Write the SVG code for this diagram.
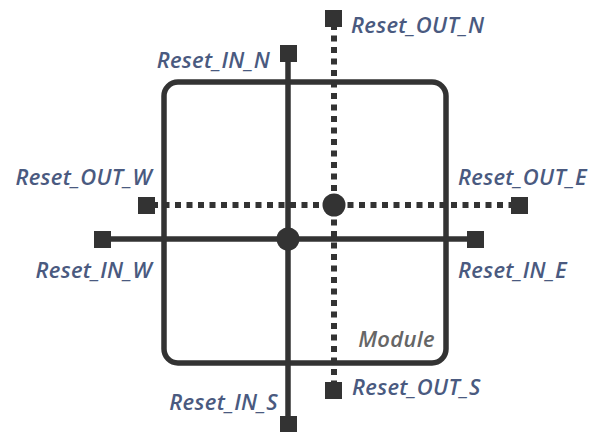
<svg xmlns="http://www.w3.org/2000/svg" width="592" height="432" viewBox="0 0 592 432">
<style>
.lbl{font-family:"Open Sans","Noto Sans",sans-serif;font-style:italic;font-weight:600;font-size:22px;letter-spacing:0.3px;fill:#4a5a80}
.mod{font-family:"Open Sans","Noto Sans",sans-serif;font-style:italic;font-weight:600;font-size:22px;letter-spacing:0.3px;fill:#666}
.solid{stroke:#333;stroke-width:5.5;fill:none}
.dot{stroke:#333;stroke-width:6;fill:none;stroke-dasharray:6 5.5}
.term{fill:#333}
</style>
<rect width="592" height="432" fill="#fff"/>
<g id="module">
<rect x="164" y="82" width="282" height="281" rx="14" fill="none" stroke="#333" stroke-width="5.5"/>
<text class="mod" x="435" y="347" text-anchor="end">Module</text>
</g>
<g id="connectors">
<line class="solid" x1="288" y1="53" x2="288" y2="424"/>
<line class="solid" x1="102" y1="239" x2="475" y2="239"/>
<line class="dot" x1="334" y1="24" x2="334" y2="386"/>
<line class="dot" x1="152" y1="205" x2="514" y2="205"/>
<circle class="term" cx="288" cy="239" r="11.5"/>
<circle class="term" cx="334" cy="205" r="11.5"/>
</g>
<g id="reset_in_n"><rect class="term" x="280" y="45" width="17" height="17"/><text class="lbl" x="270" y="68" text-anchor="end">Reset_IN_N</text></g>
<g id="reset_in_s"><rect class="term" x="280" y="416" width="17" height="17"/><text class="lbl" x="278" y="410" text-anchor="end">Reset_IN_S</text></g>
<g id="reset_in_w"><rect class="term" x="94" y="231" width="17" height="17"/><text class="lbl" x="152" y="278" text-anchor="end">Reset_IN_W</text></g>
<g id="reset_in_e"><rect class="term" x="467" y="231" width="17" height="17"/><text class="lbl" x="458" y="278">Reset_IN_E</text></g>
<g id="reset_out_n"><rect class="term" x="325" y="10" width="17" height="17"/><text class="lbl" x="351" y="33">Reset_OUT_N</text></g>
<g id="reset_out_s"><rect class="term" x="325" y="382" width="17" height="17"/><text class="lbl" x="352" y="395">Reset_OUT_S</text></g>
<g id="reset_out_w"><rect class="term" x="138" y="197" width="17" height="17"/><text class="lbl" x="152" y="185" text-anchor="end">Reset_OUT_W</text></g>
<g id="reset_out_e"><rect class="term" x="511" y="197" width="17" height="17"/><text class="lbl" x="458" y="185">Reset_OUT_E</text></g>
</svg>
